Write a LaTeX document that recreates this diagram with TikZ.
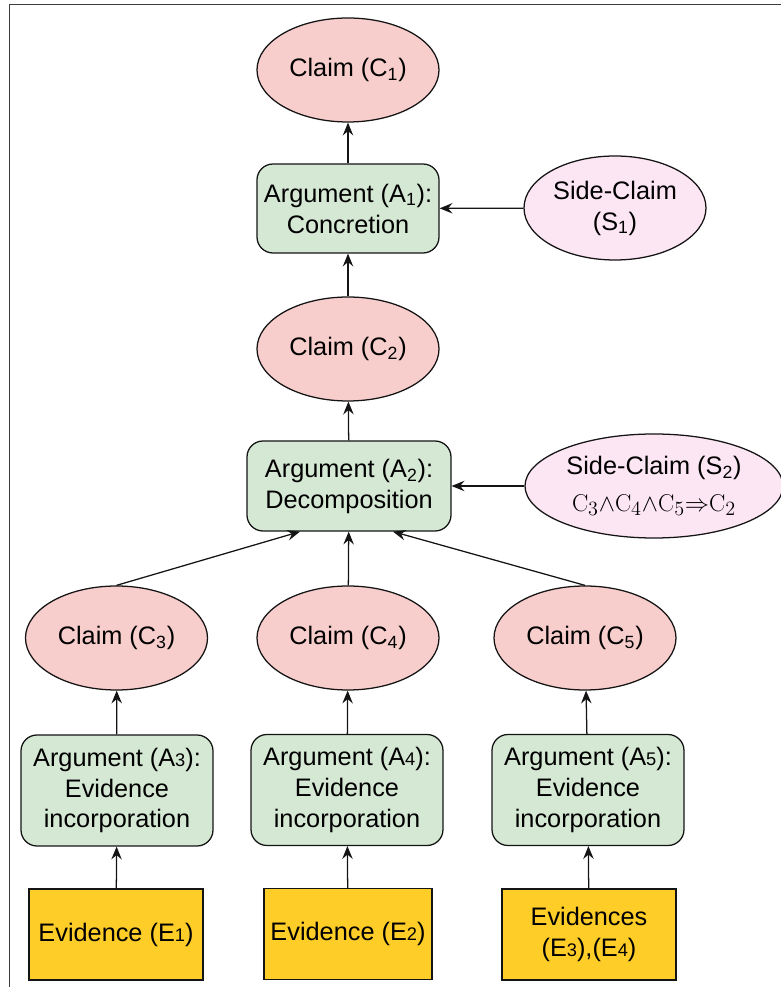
\documentclass[tikz,border=0pt]{standalone}
\usepackage[no-math]{fontspec}
\setmainfont{Liberation Sans}
\usetikzlibrary{arrows.meta,positioning,shapes.geometric}
\definecolor{ink}{RGB}{20,20,20}
\definecolor{claimfill}{RGB}{248,206,204}
\definecolor{argfill}{RGB}{213,232,212}
\definecolor{sidefill}{RGB}{253,230,243}
\definecolor{evfill}{RGB}{255,205,40}
\definecolor{frame}{RGB}{60,60,60}
\newcommand{\lowidx}[1]{{\fontsize{13}{13}\selectfont #1}}

\begin{document}
\begin{tikzpicture}[
  font=\fontsize{18}{22}\selectfont, >={Stealth[length=3.2mm,width=2.6mm,inset=1.1mm]},
  claim/.style={ellipse, draw=ink, fill=claimfill, line width=0.9pt, minimum width=4.55cm, minimum height=2.6cm, inner sep=0pt, align=center},
  side/.style={ellipse, draw=ink, fill=sidefill, line width=0.9pt, minimum width=4.55cm, minimum height=2.6cm, inner sep=0pt, align=center},
  arg/.style={draw=ink, fill=argfill, rounded corners=0.4cm, line width=0.9pt, minimum width=4.8cm, minimum height=2.775cm, inner sep=2pt, align=center},
  evbox/.style={draw=ink, fill=evfill, line width=0.9pt, minimum width=4.35cm, minimum height=2.275cm, inner sep=2pt, align=center},
  flow/.style={->, line width=0.9pt, draw=ink},
]
\useasboundingbox (0,0) rectangle (19.5,24.675);
\draw[frame, line width=0.7pt] (0.225,-0.5) -- (0.225,24.55) -- (20,24.55);

% ------------------------------------------------------------------ upper chain
\node[claim] (c1) at (8.7,22.925) {Claim (C\textsubscript{1})};
\node[arg, minimum width=4.55cm, minimum height=2.225cm] (a1) at (8.7,19.4625)
  {Argument (A\textsubscript{1}):\\Concretion};
\node[side] (s1) at (15.375,19.475) {Side-Claim\\(S\textsubscript{1})};

\node[claim] (c2) at (8.7,15.95) {Claim (C\textsubscript{2})};
\node[arg, minimum width=5.1cm, minimum height=2.25cm] (a2) at (8.725,12.525)
  {Argument (A\textsubscript{2}):\\Decomposition};
\node[side, minimum width=6.45cm] (s2) at (16.35,12.525)
  {Side-Claim (S\textsubscript{2})\\[4pt]
   \fontsize{19}{22}\selectfont$\mathrm{C}_3{\wedge}\mathrm{C}_4{\wedge}\mathrm{C}_5{\Rightarrow}\mathrm{C}_2$};

% ------------------------------------------------------------------ sub-claims
\node[claim] (c3) at (2.9125,8.725) {Claim (C\textsubscript{3})};
\node[claim] (c4) at (8.7,8.725) {Claim (C\textsubscript{4})};
\node[claim] (c5) at (14.625,8.725) {Claim (C\textsubscript{5})};

\node[arg] (a3) at (2.925,4.9125) {Argument (A\lowidx{3}):\\Evidence\\incorporation};
\node[arg] (a4) at (8.675,4.925) {Argument (A\lowidx{4}):\\Evidence\\incorporation};
\node[arg] (a5) at (14.7,4.925) {Argument (A\lowidx{5}):\\Evidence\\incorporation};

\node[evbox] (e1) at (2.9,1.3125) {Evidence (E\lowidx{1})};
\node[evbox, minimum width=4.2cm] (e2) at (8.7,1.325) {Evidence (E\lowidx{2})};
\node[evbox] (e3) at (14.725,1.3125) {Evidences\\(E\lowidx{3}),(E\lowidx{4})};

% ------------------------------------------------------------------ support links
\draw[flow] (a1) -- (c1);
\draw[flow] (s1) -- (a1);
\draw[flow] (c2) -- (a1);
\draw[flow] (a2) -- (c2);
\draw[flow] (s2) -- (a2);

\draw[flow] (c3.north) -- ([xshift=-1.225cm]a2.south);
\draw[flow] (c4) -- (a2);
\draw[flow] (c5.north) -- ([xshift=1.1cm]a2.south);

\foreach \k in {3,4,5} \draw[flow] (a\k) -- (c\k);
\draw[flow] (e1) -- (a3);
\draw[flow] (e2) -- (a4);
\draw[flow] (e3) -- (a5);
\end{tikzpicture}
\end{document}
